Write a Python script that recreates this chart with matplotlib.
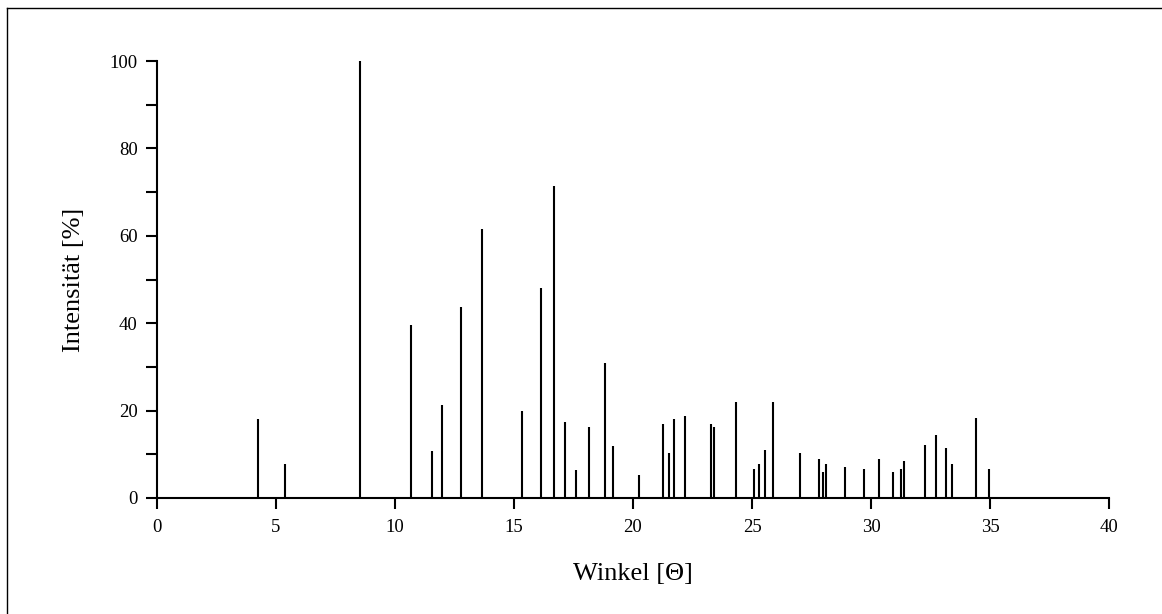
import matplotlib
matplotlib.use("Agg")
import matplotlib.pyplot as plt
from matplotlib.lines import Line2D
from matplotlib.ticker import MultipleLocator

angles = [4.26, 5.38, 8.52, 10.66, 11.54, 11.99, 12.77, 13.67, 15.35, 16.13,
          16.69, 17.14, 17.59, 18.15, 18.82, 19.16, 20.26, 21.27, 21.51, 21.72,
          22.18, 23.29, 23.42, 24.31, 25.08, 25.31, 25.55, 25.88, 27.00, 27.80,
          28.00, 28.12, 28.90, 29.69, 30.35, 30.92, 31.26, 31.37, 32.27, 32.72,
          33.16, 33.39, 34.40, 34.96]
intensities = [18.1, 7.7, 100.0, 39.5, 10.8, 21.2, 43.8, 61.5, 20.0, 48.1,
               71.3, 17.5, 6.5, 16.3, 31.0, 12.0, 5.3, 17.0, 10.2, 18.1,
               18.7, 17.0, 16.3, 21.9, 6.6, 7.8, 10.9, 21.9, 10.2, 9.0,
               6.0, 7.8, 7.2, 6.6, 9.0, 6.0, 6.6, 8.4, 12.1, 14.5,
               11.5, 7.8, 18.2, 6.6]
x_ticks = [0, 5, 10, 15, 20, 25, 30, 35, 40]
y_ticks = [0, 20, 40, 60, 80, 100]
x_label = "Winkel [Θ]"
y_label = "Intensität [%]"

plt.rcParams['font.family'] = ['Liberation Serif', 'DejaVu Serif']

W, H = 1162, 614
fig = plt.figure(figsize=(W / 100, H / 100), dpi=100)
ax = fig.add_axes([157 / W, 1 - 498 / H, (1109 - 157) / W, (498 - 61) / H])

ax.vlines(angles, 0, intensities, colors='black', linewidth=1.5)

ax.set_xlim(0, 40)
ax.set_ylim(0, 100)
ax.set_xticks(x_ticks)
ax.set_yticks(y_ticks)
ax.yaxis.set_minor_locator(MultipleLocator(10))
ax.tick_params(axis='x', direction='out', length=8, width=1.5, labelsize=13.5, pad=7)
ax.tick_params(axis='y', which='both', direction='out', length=8, width=1.5, labelsize=13.5, pad=6)
for s in ['top', 'right']:
    ax.spines[s].set_visible(False)
for s in ['left', 'bottom']:
    ax.spines[s].set_linewidth(1.5)

ax.set_xlabel(x_label, fontsize=19)
ax.set_ylabel(y_label, fontsize=19)
ax.xaxis.set_label_coords(0.5, -(574 - 498) / (498 - 61), transform=ax.transAxes)
ax.xaxis.label.set_va('center')
ax.yaxis.set_label_coords(-(157 - 74) / (1109 - 157), 0.5, transform=ax.transAxes)
ax.yaxis.label.set_va('center')

# outer frame (top and left edge)
fig.add_artist(Line2D([7 / W, 1.0], [1 - 8 / H, 1 - 8 / H], color='black', linewidth=1, transform=fig.transFigure))
fig.add_artist(Line2D([7 / W, 7 / W], [0.0, 1 - 8 / H], color='black', linewidth=1, transform=fig.transFigure))

fig.savefig("out.png", dpi=100, facecolor='white')
